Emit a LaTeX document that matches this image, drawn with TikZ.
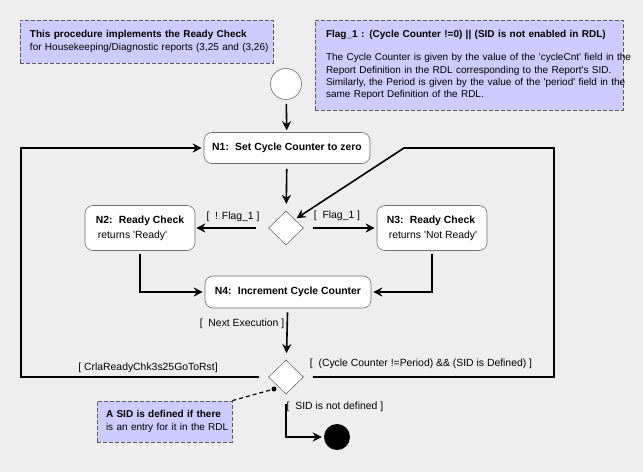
\documentclass[tikz,border=0pt]{standalone}
\usepackage{fontspec}
\setmainfont{Liberation Sans}
\usetikzlibrary{arrows.meta,shapes.geometric}
\newcommand{\sq}{\textquotesingle}

\begin{document}
\begin{tikzpicture}[x=1pt,y=-1pt,>={Stealth[length=9pt,width=9pt]},line join=miter]

% Colors
\definecolor{pagegray}{RGB}{238,238,238}
\definecolor{notefill}{RGB}{204,204,255}
\definecolor{noteline}{RGB}{90,90,90}
\definecolor{boxline}{RGB}{110,110,110}

% Styles
\tikzset{
  actbox/.style={draw=boxline,fill=white,rounded corners=8pt,line width=0.6pt,
    font=\fontsize{10.4}{15}\selectfont,align=left,inner sep=0pt},
  notebox/.style={draw=noteline,fill=notefill,dash pattern=on 4pt off 2pt,line width=0.8pt,
    font=\fontsize{10}{12.3}\selectfont,align=left,inner ysep=0pt},
  choice/.style={diamond,draw=boxline,fill=white,line width=0.6pt,inner sep=0pt,
    minimum width=35pt,minimum height=34pt},
  flow/.style={draw=black,line width=1.6pt,->},
  guard/.style={font=\fontsize{10.4}{12}\selectfont,inner sep=1pt}
}

% Page
\fill[pagegray] (0,0) rectangle (643,472);

% Notes
\node[notebox,text width=233pt,inner xsep=10pt,minimum height=43pt] (purpose) at (146.5,41.5)
  {\mbox{\textbf{This procedure implements the Ready Check}}\\
   \mbox{for Housekeeping/Diagnostic reports (3,25 and (3,26)}};
\node[notebox,text width=286pt,inner xsep=11pt,minimum height=90pt] (flagnote) at (469,65)
  {\mbox{\textbf{Flag\_1 : (Cycle Counter !=0) || (SID is not enabled in RDL)}}\\[11pt]
   \mbox{The Cycle Counter is given by the value of the \sq cycleCnt\sq{} field in the}\\
   \mbox{Report Definition in the RDL corresponding to the Report\sq s SID.}\\
   \mbox{Similarly, the Period is given by the value of the \sq period\sq{} field in the}\\
   \mbox{same Report Definition of the RDL.}};
\node[notebox,text width=117pt,inner xsep=9pt,minimum height=41pt] (sidnote) at (164.5,421.5)
  {\mbox{\textbf{A SID is defined if there}}\\
   \mbox{is an entry for it in the RDL}};

% Start and end
\node[circle,draw=boxline,fill=white,line width=0.6pt,minimum size=31pt,inner sep=0pt] (start) at (286,84) {};
\node[circle,fill=black,minimum size=26pt,inner sep=0pt] (stop) at (337,437) {};

% Actions
\node[actbox,minimum width=166pt,minimum height=31pt] (n1) at (287,148)
  {\textbf{N1:\hspace{0.6em}Set Cycle Counter to zero}};
\node[actbox,minimum width=110pt,minimum height=45pt] (n2) at (140,228)
  {\textbf{N2:\hspace{0.6em}Ready Check}\\\hspace{2pt}returns \sq Ready\sq};
\node[actbox,minimum width=110pt,minimum height=45pt] (n3) at (432,228)
  {\textbf{N3:\hspace{0.6em}Ready Check}\\\hspace{2pt}returns \sq Not Ready\sq};
\node[actbox,minimum width=166pt,minimum height=32pt] (n4) at (288,292)
  {\textbf{N4:\hspace{0.6em}Increment Cycle Counter}};

% Decisions
\node[choice] (d1) at (286,228) {};
\node[choice] (d2) at (286,377) {};
\node[circle,fill=black,minimum size=5pt,inner sep=0pt] (sidpoint) at (274,389) {};

% Loop corners
\coordinate (loopleft) at (21,148);
\coordinate (loopright) at (554,148);
\coordinate (loopbend) at (404,148);

% Flow
\draw[flow,shorten <=4pt,shorten >=2pt] (start) -- (n1);
\draw[flow,shorten <=5pt,shorten >=7pt] (n1) -- (d1);
\draw[flow,shorten <=12pt,shorten >=1pt] (d1) -- (n2);
\draw[flow,shorten <=9pt,shorten >=2pt] (d1) -- (n3);
\draw[flow,shorten <=3pt,shorten >=2pt] (n2) |- (n4);
\draw[flow,shorten <=3pt,shorten >=2pt] (n3) |- (n4);
\draw[flow,shorten <=4pt,shorten >=7pt] (n4) -- (d2);
\draw[flow,shorten <=9pt,shorten >=2pt] (d2.west) -| (loopleft) -- (n1.west);
\draw[flow,shorten <=9pt,shorten >=2pt] (d2.east) -| (loopright) -- (loopbend) -- (d1.north east);
\draw[flow,shorten <=10pt,shorten >=2pt] (d2) |- (stop);
\draw[black,line width=1.2pt,dash pattern=on 4pt off 3pt] (sidnote.north east) -- (sidpoint);

% Guards
\node[guard] (gnotflag) at (233,217) {[\ \ ! Flag\_1 ]};
\node[guard] (gflag) at (337,216) {[\ \ Flag\_1 ]};
\node[guard] (gnext) at (242,324) {[\ \ Next Execution ]};
\node[guard] (greset) at (148,368) {[ CrlaReadyChk3s25GoToRst]};
\node[guard] (gcycle) at (421,364) {[\ \ (Cycle Counter !=Period) \&\& (SID is Defined) ]};
\node[guard] (gundef) at (335,407) {[\ \ SID is not defined ]};

\end{tikzpicture}
\end{document}
